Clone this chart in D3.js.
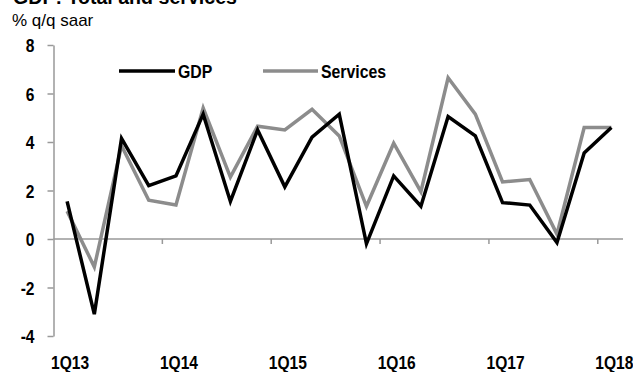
<!DOCTYPE html>
<html>
<meta charset="utf-8">
<style>
body { margin: 0; background: #fff; }
text { font-family: "Liberation Sans", Arial, sans-serif; }
.tick text, .lbl { font-weight: bold; font-size: 19px; fill: #000; }
.leg { font-weight: bold; font-size: 18px; fill: #000; }
</style>
<body>
<svg width="633" height="372"></svg>
<script src="https://cdn.jsdelivr.net/npm/d3@7"></script>
<script>

var quarters = ["1Q13","2Q13","3Q13","4Q13","1Q14","2Q14","3Q14","4Q14",
                "1Q15","2Q15","3Q15","4Q15","1Q16","2Q16","3Q16","4Q16",
                "1Q17","2Q17","3Q17","4Q17","1Q18"];
var gdp = [1.55, -3.1, 4.15, 2.2, 2.6, 5.15, 1.55, 4.5, 2.15, 4.2, 5.15,
           -0.2, 2.6, 1.35, 5.05, 4.25, 1.5, 1.4, -0.15, 3.55, 4.6];
var services = [1.15, -1.15, 3.85, 1.6, 1.4, 5.4, 2.55, 4.65, 4.5, 5.35, 4.25,
                1.35, 3.95, 1.95, 6.65, 5.15, 2.35, 2.45, 0.2, 4.6, 4.6];
var yTicks = [-4, -2, 0, 2, 4, 6, 8];
var yearStarts = ["1Q13","1Q14","1Q15","1Q16","1Q17","1Q18"];

var svg = d3.select("svg");

var x = d3.scaleBand().domain(quarters).range([53.5, 625]);
var y = d3.scaleLinear().domain([-4, 8]).range([336, 45]);
var cx = function(q) { return x(q) + x.bandwidth() / 2; };
var squeeze = 0.82;   // narrow bold look of the original

// title (mostly cut off at the top, as in the original)
svg.append("text")
    .attr("x", 13).attr("y", 4)
    .style("font-weight", "bold").style("font-size", "19.6px")
    .text("GDP: Total and services");

svg.append("text")
    .attr("x", 12).attr("y", 26)
    .style("font-size", "17px")
    .text("% q/q saar");

// y axis
var yAxis = svg.append("g")
    .attr("transform", "translate(53.5,0)")
    .call(d3.axisLeft(y).tickValues(yTicks).tickFormat(function(d) { return String(d); })
          .tickSize(6).tickSizeOuter(0).tickPadding(0));
yAxis.select(".domain").attr("stroke", "#999").attr("stroke-width", 1.5);
yAxis.selectAll(".tick line").attr("stroke", "#999").attr("stroke-width", 1.5);
yAxis.selectAll(".tick text")
    .attr("x", 0).attr("dy", "0.36em")
    .attr("transform", "translate(-19,0) scale(" + squeeze + ",1)");

// zero line with year boundary ticks
svg.append("line")
    .attr("x1", 53.5).attr("x2", 623)
    .attr("y1", y(0)).attr("y2", y(0))
    .attr("stroke", "#999").attr("stroke-width", 1.5);

svg.selectAll(".xtick")
    .data(yearStarts.slice(1))
  .enter().append("line")
    .attr("class", "xtick")
    .attr("x1", function(d) { return x(d); })
    .attr("x2", function(d) { return x(d); })
    .attr("y1", y(0)).attr("y2", y(0) + 5)
    .attr("stroke", "#999").attr("stroke-width", 1.5);

svg.selectAll(".xlbl")
    .data(yearStarts)
  .enter().append("text")
    .attr("class", "lbl xlbl")
    .attr("transform", function(d) {
      return "translate(" + (cx(d) + 3) + ",369) scale(" + squeeze + ",1)";
    })
    .attr("text-anchor", "middle")
    .text(function(d) { return d; });

var line = d3.line()
    .x(function(d, i) { return cx(quarters[i]); })
    .y(function(d) { return y(d); });

svg.append("path")
    .datum(services)
    .attr("fill", "none")
    .attr("stroke", "#8c8c8c")
    .attr("stroke-width", 3.5)
    .attr("d", line);

svg.append("path")
    .datum(gdp)
    .attr("fill", "none")
    .attr("stroke", "#000")
    .attr("stroke-width", 3.5)
    .attr("d", line);

// legend
var legend = [
  {name: "GDP", color: "#000", x1: 119, x2: 175},
  {name: "Services", color: "#8c8c8c", x1: 263, x2: 318}
];
legend.forEach(function(d) {
  svg.append("line")
      .attr("x1", d.x1).attr("x2", d.x2)
      .attr("y1", 71).attr("y2", 71)
      .attr("stroke", d.color).attr("stroke-width", 3.5);
  svg.append("text")
      .attr("class", "leg")
      .attr("transform", "translate(" + (d.x2 + 3) + ",77.5) scale(0.88,1)")
      .text(d.name);
});

</script>
</body>
</html>
